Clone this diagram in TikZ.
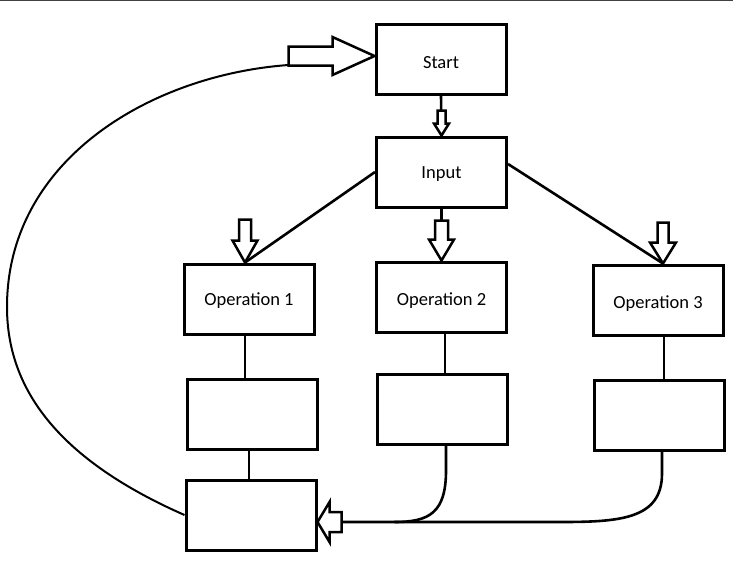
\documentclass[tikz,border=0pt]{standalone}
\usepackage{fontspec}
\setmainfont{Carlito}
\usepackage{tikz}
\usetikzlibrary{calc,positioning}
% hollow block arrow: tip, rotation, head half width, head length, shaft half width, shaft length
\newcommand{\fatarrow}[6]{%
\begin{scope}[shift={#1},rotate=#2]
\draw[line width=2.5pt,line join=miter,fill=white] (0,0) -- (-#4,#3) -- (-#4,#5) -- ({-#4-#6},#5) -- ({-#4-#6},-#5) -- (-#4,-#5) -- (-#4,-#3) -- cycle;
\end{scope}}

\begin{document}
\begin{tikzpicture}[x=1pt,y=-1pt]
\tikzstyle{box}=[rectangle,draw=black,line width=3pt,minimum width=130pt,minimum height=70pt,inner sep=0pt,text height=13.5pt,text depth=0pt,font=\fontsize{18.5}{21}\selectfont]
\tikzstyle{link}=[line width=2.6pt]
\tikzstyle{loop}=[line width=2pt]

\useasboundingbox (0,0) rectangle (733,581);
\draw[black!75,line width=2pt] (0,0) -- (733,0);

%%%%%%%%%%%%%%%%%%%%%%%%%%%%%%%%%%%%%%%%%%%%%%%%%%%%%%%%%%%%%%%%%%%%%%%%
%boxes
\node[box,text height=18pt] (start) at (441,59) {Start};
\node[box,text height=12pt] (input) at (441.5,172) {Input};
%operations
\node[box] (op1) at (249,299) {Operation 1};
\node[box,text height=17pt] (op2) at (441.5,297) {Operation 2};
\node[box,text height=16pt] (op3) at (658,300) {Operation 3};
%results
\node[box] (res1) at (252,414) {};
\node[box] (res2) at (442,409) {};
\node[box] (res3) at (659,415) {};
\node[box] (last) at (251,515) {};

\coordinate (loopleft) at (7,307);
\coordinate (loopend) at ($(start.west)+(-86,6)$);

%%%%%%%%%%%%%%%%%%%%%%%%%%%%%%%%%%%%%%%%%%%%%%%%%%%%%%%%%%%%%%
%ARROWS

% start->input->op
\draw[link] (start.south) -- (input.north);
\draw[link] (input.south) -- (op2.north);
\draw[link] (input.west) -- ($(op1.north)+(-4,0)$);
\draw[link] ($(input.east)+(0,-8)$) -- ($(op3.north)+(5,0)$);

% op->res
\draw[link] ($(op1.south)+(-4,0)$) -- ($(res1.north)+(-7,0)$);
\draw[link] ($(op2.south)+(3.5,0)$) -- ($(res2.north)+(3,0)$);
\draw[link] ($(op3.south)+(6,0)$) -- ($(res3.north)+(5,0)$);

% res->last
\draw[link] ($(res1.south)+(-3,0)$) -- ($(last.north)+(-2,0)$);
\draw[link] ($(res2.south)+(4,0)$) -- ++(0,25) .. controls +(0,42) and +(35,0) .. ($(last.east)+(77,7)$);
\draw[link] ($(res3.south)+(3,0)$) -- ++(0,22) .. controls +(0,45) and +(60,0) .. ($(last.east)+(244,7)$) -- ($(last.east)+(24,7)$);

% last->start
\draw[loop] (last.west) .. controls +(-125,-55) and +(0,83) .. (loopleft) .. controls +(0,-147) and +(-138,10) .. (loopend);

% block heads
\fatarrow{(input.north)}{-90}{7.5}{12}{4}{13}
\fatarrow{(op2.north)}{-90}{12.5}{21}{6.5}{19}
\fatarrow{($(op1.north)+(-4,0)$)}{-90}{12.5}{22}{6}{21}
\fatarrow{($(op3.north)+(5,0)$)}{-90}{13}{21}{5.5}{20}
\fatarrow{($(start.west)+(0,-3)$)}{0}{19}{42}{9.5}{44}
\fatarrow{($(last.east)+(0,7)$)}{180}{20}{12}{10}{12}

\end{tikzpicture}
\end{document}
